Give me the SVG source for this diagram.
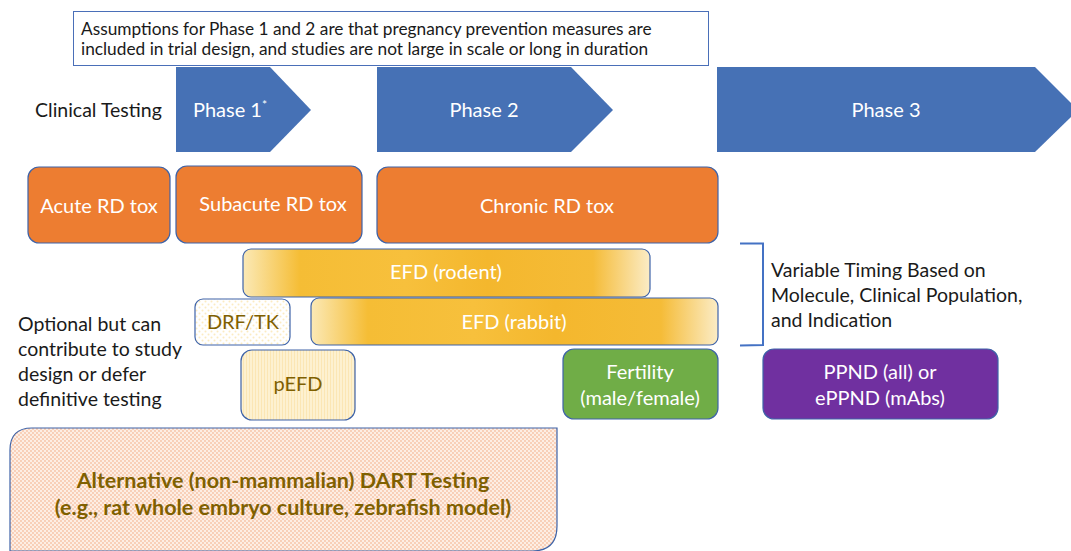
<svg xmlns="http://www.w3.org/2000/svg" width="1071" height="551" viewBox="0 0 1071 551">
  <defs>
    <style>
      text { font-family: Lato, "Open Sans", "Liberation Sans", sans-serif; }
      .phase { fill: #4671B5; }
      .box { stroke: #3E63A8; stroke-width: 1.2; }
      .wt { fill: #ffffff; font-size: 20px; text-anchor: middle; }
      .dk { fill: #1a1a1a; font-size: 19.5px; }
      .gold { fill: #7F6000; text-anchor: middle; }
    </style>
    <linearGradient id="efd" x1="0" y1="0" x2="1" y2="0">
      <stop offset="0" stop-color="#FBE9B6"/>
      <stop offset="0.14" stop-color="#F5BD35"/>
      <stop offset="0.4" stop-color="#F7C03C"/>
      <stop offset="0.6" stop-color="#F4B72D"/>
      <stop offset="0.86" stop-color="#F5BC38"/>
      <stop offset="1" stop-color="#FBECC6"/>
    </linearGradient>
    <pattern id="dots" width="6" height="6" patternUnits="userSpaceOnUse">
      <rect width="6" height="6" fill="#FFFFFF"/>
      <circle cx="1.5" cy="1.5" r="1" fill="#FCEBC0"/>
      <circle cx="4.5" cy="4.5" r="1" fill="#FCEBC0"/>
    </pattern>
    <pattern id="stripes" width="3" height="3" patternUnits="userSpaceOnUse">
      <rect width="3" height="3" fill="#FDF1D0"/>
      <rect width="1" height="3" fill="#FBE6B4"/>
    </pattern>
    <pattern id="peach" width="4" height="4" patternUnits="userSpaceOnUse">
      <rect width="4" height="4" fill="#FDEEE4"/>
      <circle cx="1" cy="1" r="0.9" fill="#F6C2A4"/>
      <circle cx="3" cy="3" r="0.9" fill="#F6C2A4"/>
    </pattern>
  </defs>
  <rect width="1071" height="551" fill="#ffffff"/>

  <g id="assumptions">
    <rect x="73.5" y="11.5" width="635" height="54" fill="#ffffff" stroke="#4A6FB8" stroke-width="1"/>
    <text x="81" y="35" font-size="17.3" fill="#1a1a1a">Assumptions for Phase 1 and 2 are that pregnancy prevention measures are</text>
    <text x="81" y="55" font-size="17.3" fill="#1a1a1a">included in trial design, and studies are not large in scale or long in duration</text>
  </g>

  <g id="clinical-label">
    <text class="dk" x="35" y="117">Clinical Testing</text>
  </g>

  <g id="phase1">
    <polygon class="phase" points="176,67 270,67 311,110 270,152 176,152"/>
    <text class="wt" x="230" y="117">Phase 1<tspan font-size="12" dy="-8">*</tspan></text>
  </g>
  <g id="phase2">
    <polygon class="phase" points="377,67 571,67 613,110 571,152 377,152"/>
    <text class="wt" x="484" y="117">Phase 2</text>
  </g>
  <g id="phase3">
    <polygon class="phase" points="717,67 1035,67 1071,103 1071,117 1035,152 717,152"/>
    <text class="wt" x="886" y="117">Phase 3</text>
  </g>

  <g id="acute">
    <rect class="box" x="28" y="167" width="142" height="76" rx="11" fill="#ED7D31"/>
    <text class="wt" x="99" y="213">Acute RD tox</text>
  </g>
  <g id="subacute">
    <rect class="box" x="176" y="166" width="186" height="77" rx="11" fill="#ED7D31"/>
    <text class="wt" x="273" y="211">Subacute RD tox</text>
  </g>
  <g id="chronic">
    <rect class="box" x="377" y="167" width="341" height="76" rx="11" fill="#ED7D31"/>
    <text class="wt" x="547" y="213">Chronic RD tox</text>
  </g>

  <g id="efd-rodent">
    <rect class="box" x="243" y="249" width="407" height="48" rx="8" fill="url(#efd)"/>
    <text class="wt" x="446" y="279">EFD (rodent)</text>
  </g>
  <g id="drf-tk">
    <rect class="box" x="195" y="299" width="95" height="46" rx="8" fill="url(#dots)"/>
    <text class="gold" x="243" y="329" font-size="20">DRF/TK</text>
  </g>
  <g id="efd-rabbit">
    <rect class="box" x="311" y="298" width="407" height="47" rx="8" fill="url(#efd)"/>
    <text class="wt" x="514" y="329">EFD (rabbit)</text>
  </g>

  <g id="optional-label">
    <text class="dk" x="18" y="331">Optional but can</text>
    <text class="dk" x="18" y="356">contribute to study</text>
    <text class="dk" x="18" y="381">design or defer</text>
    <text class="dk" x="18" y="406">definitive testing</text>
  </g>

  <g id="pefd">
    <rect class="box" x="241" y="350" width="114" height="70" rx="11" fill="url(#stripes)"/>
    <text class="gold" x="298" y="391" font-size="20">pEFD</text>
  </g>
  <g id="fertility">
    <rect class="box" x="563" y="349" width="155" height="70" rx="11" fill="#70AD47"/>
    <text class="wt" x="640" y="379">Fertility</text>
    <text class="wt" x="640" y="405">(male/female)</text>
  </g>
  <g id="ppnd">
    <rect class="box" x="763" y="349" width="235" height="70" rx="11" fill="#7030A0"/>
    <text class="wt" x="880" y="379">PPND (all) or</text>
    <text class="wt" x="880" y="405">ePPND (mAbs)</text>
  </g>

  <g id="timing">
    <text class="dk" x="771" y="277">Variable Timing Based on</text>
    <text class="dk" x="771" y="302">Molecule, Clinical Population,</text>
    <text class="dk" x="771" y="327">and Indication</text>
  </g>

  <g id="alternative">
    <path d="M10,551 L10,450 Q10,428 32,428 L557,428 L557,526 Q557,551 532,551 Z" fill="url(#peach)" stroke="#3E63A8" stroke-width="1.2"/>
    <text class="gold" x="283" y="488" font-size="21.5" font-weight="bold">Alternative (non-mammalian) DART Testing</text>
    <text class="gold" x="283" y="515" font-size="21.5" font-weight="bold">(e.g., rat whole embryo culture, zebrafish model)</text>
  </g>

  <g id="connectors">
    <path d="M740,243.5 L763,243.5 L763,345 L740,345.5" fill="none" stroke="#4472C4" stroke-width="2"/>
  </g>
</svg>
